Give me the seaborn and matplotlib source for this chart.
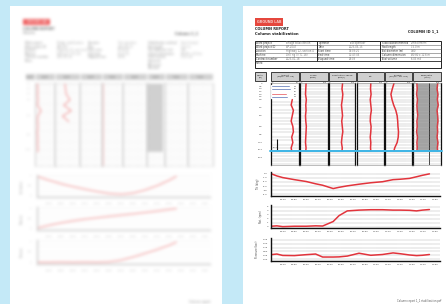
import numpy as np
import matplotlib
matplotlib.use("Agg")
import matplotlib.pyplot as plt
from matplotlib.patches import Rectangle
from matplotlib.ticker import MultipleLocator
import seaborn as sns

W, H = 446, 304
BG = "#c4e9f7"
RED = "#e2343c"
BLUE = "#3d5ca8"
CYAN = "#3db5e6"

# ---------------- right page: column log ----------------
depth = [0, 1, 2, 3, 4, 5, 6, 7, 8, 9, 10, 11, 12, 12.6]
torque = [22, 21, 20, 23, 21, 22, 20, 21, 23, 22, 21, 20, 22, 21]
penetration = [52, 50, 53, 51, 48, 50, 52, 49, 51, 53, 50, 48, 51, 50]
lift = [52, 51, 53, 50, 52, 54, 51, 50, 53, 52, 50, 52, 51, 52]
volume = [33, 27, 22, 26, 32, 40, 45, 47, 48, 50, 49, 45, 36, 33]
flow_lo = [14, 15, 13, 16, 14, 15, 17, 14, 15, 13, 16, 14, 15, 14]
flow_hi = [88, 86, 89, 87, 90, 86, 88, 89, 87, 88, 86, 89, 87, 88]
flow_mark = 56

amount_depth = [3, 4, 5, 6, 7, 8, 9, 10, 11, 12, 12.6]
amount = [38, 36, 40, 38, 36, 39, 40, 37, 39, 36, 37]
bar_depth = [0.5, 1.0, 1.5, 2.0, 2.5]
bar_amount = [34, 36, 36, 28, 31]
bar_color = [BLUE, BLUE, BLUE, RED, BLUE]
stop_depth = [10.4, 12.4]
stop_amount = 11
column_length = 12.6

depth_ticks = [0, 0.5, 1.0, 1.5, 2.0, 2.5, 3.0, 4.5, 6.0, 8.0, 9.5, 11.0, 12.4, 13.8]

panel_titles = ["Amount\n(kg/m ; tot. kg)", "Torque\n(kNm)", "Penetration speed\n(mm/r)",
                "Lift", "Volume\n(m3/m ; tot. m3)", "Flows/ratio\n(l/min)"]
panel_max = [50, 100, 100, 100, 100, 100]

# ---------------- right page: time series ----------------
time_min = [-10, -5, 0, 10, 20, 28, 34, 43, 48, 55, 65, 75, 85, 94, 100, 108, 114, 119, 125]
tilt = [0.0, -0.55, -0.95, -1.45, -1.9, -2.45, -2.8, -3.6, -3.3, -2.95, -2.55, -2.2,
        -1.95, -1.45, -1.35, -1.15, -0.75, -0.4, -0.05]
rotation = [0.1, 0.2, 0.0, 0.1, 0.1, 0.2, 0.15, 1.3, 2.8, 4.0, 4.2, 4.3, 4.3, 4.2,
            4.2, 4.15, 4.0, 4.2, 4.35]
pressure = [0.30, 0.34, 0.25, 0.24, 0.30, 0.34, 0.15, 0.15, 0.16, 0.21, 0.39, 0.26,
            0.31, 0.41, 0.36, 0.28, 0.24, 0.26, 0.31]
time_labels = ["09:40", "09:50", "10:00", "10:10", "10:20", "10:30", "10:40",
               "10:50", "11:00", "11:10", "11:20", "11:30", "11:40", "11:50"]

# ---------------- left page (out of focus) ----------------
lp_depth = [0, 1, 2, 3, 4, 5, 6, 7, 8, 9, 10, 11, 12, 12.6]
lp_trace_a = [12, 14, 13, 15, 12, 30, 14, 13, 15, 12, 14, 13, 15, 14]
lp_trace_b = [40, 42, 45, 60, 35, 65, 30, 55]
lp_time = [-11, 0, 10, 20, 30, 40, 50, 60, 70, 80, 90, 100, 106]
lp_curve1 = [1.0, 0.78, 0.6, 0.45, 0.32, 0.2, 0.1, 0.06, 0.12, 0.28, 0.5, 0.78, 0.98]
lp_curve2 = [0.0, 0.15, 0.27, 0.37, 0.45, 0.52, 0.59, 0.65, 0.71, 0.78, 0.85, 0.93, 0.97]
lp_curve3 = [0.0, 0.0, 0.01, 0.0, 0.01, 0.0, 0.02, 0.1, 0.25, 0.42, 0.6, 0.8, 0.95]

info_labels = [["Work project", "Work project ID", "Location", "Machine", "Contract number"],
               ["Operator", "Date", "Start time", "End time", "Elapsed time"],
               ["Stabilization method", "Rod length", "Tool diameter (m)",
                "Column dimension", "Total volume"]]
info_values = [["Bridge stabilization", "WP-2047", "Highway 12, section 4",
                "Drill rig 3 (TC-18)", "2023-01-18"],
               ["Test operator", "2023-05-15", "09:38:20", "11:47:05", "02:08"],
               ["Lime/cement", "15.0 m", "0.80", "Ø0.80 x 12.6 m", "6.03 m3"]]


def px_axes(fig, x0, y0, x1, y1):
    return fig.add_axes([x0 / W, 1 - y1 / H, (x1 - x0) / W, (y1 - y0) / H])


def _box(a, r, axis):
    k = 2 * r + 1
    pad = [(0, 0)] * a.ndim
    pad[axis] = (r + 1, r)
    c = np.cumsum(np.pad(a, pad), axis=axis)
    n = a.shape[axis]
    return (np.take(c, range(k, k + n), axis=axis) - np.take(c, range(n), axis=axis)) / k


def soften(im, dpi):
    """agg filter: blur a rendered artist (the left page is out of focus)"""
    pad = 5
    p = np.pad(im, ((pad, pad), (pad, pad), (0, 0)))
    pm = np.concatenate([p[..., :3] * p[..., 3:], p[..., 3:]], axis=-1)
    for _ in range(3):
        pm = _box(_box(pm, 1, 0), 1, 1)
    a = pm[..., 3:]
    rgb = np.where(a > 1e-4, pm[..., :3] / np.maximum(a, 1e-4), 0)
    return np.clip(np.concatenate([rgb, a], axis=-1), 0, 1), -pad, -pad


def pixel_canvas(fig, x0, y0, x1, y1):
    ax = px_axes(fig, x0, y0, x1, y1)
    ax.set_xlim(x0, x1)
    ax.set_ylim(y1, y0)
    ax.axis("off")
    ax.patch.set_alpha(0)
    return ax


def depth_panel(ax, xmax, grid_color="#8a8a8a", spine_color="#111", lw=0.9):
    ax.set_xlim(0, xmax)
    ax.set_ylim(15.2, -0.1)
    ax.yaxis.set_minor_locator(MultipleLocator(0.5))
    ax.grid(which="minor", axis="y", color=grid_color, lw=0.35, ls=(0, (1.2, 0.8)))
    ax.set_xticks([])
    ax.set_yticks([])
    ax.tick_params(which="both", length=0)
    for side in ["top", "bottom"]:
        ax.spines[side].set_color(grid_color)
        ax.spines[side].set_linewidth(0.4)
    for side in ["left", "right"]:
        ax.spines[side].set_color(spine_color)
        ax.spines[side].set_linewidth(lw)


def time_chart(ax, ylim, yticks, ylabels, ylabel, xlabels, line_c="#111", text_c="#444",
               grid_c="#8a8a8a"):
    ax.set_xlim(-10, 134)
    ax.set_ylim(*ylim)
    ax.set_xticks(range(0, 10 * len(xlabels), 10))
    ax.set_xticklabels(xlabels)
    ax.set_yticks(yticks)
    ax.set_yticklabels(ylabels)
    ax.set_xlabel("")
    ax.set_ylabel(ylabel, fontsize=1.8, labelpad=2.5, color=text_c)
    ax.grid(axis="y", color=grid_c, lw=0.35, ls=(0, (1.2, 0.8)))
    ax.tick_params(labelsize=1.7, length=1, width=0.4, pad=1.2, colors=text_c)
    sns.despine(ax=ax)
    for side in ["left", "bottom"]:
        ax.spines[side].set_color(line_c)
        ax.spines[side].set_linewidth(1.0)


sns.set_theme(style="white")
plt.rcParams["font.family"] = ["DejaVu Sans"]

fig = plt.figure(figsize=(W / 100, H / 100), dpi=100)
fig.patch.set_facecolor(BG)

bg = pixel_canvas(fig, 0, 0, W, H)
bg.add_patch(Rectangle((10, 6), 212, 300, facecolor="white", edgecolor="none"))
bg.add_patch(Rectangle((243, 6), 205, 300, facecolor="white", edgecolor="none"))

# ======================= left page (blurred) =======================
LT = "#a9a9a9"
LR = "#f3a2a2"
lp = pixel_canvas(fig, 10, 6, 222, 304)
lp.set_agg_filter(soften)
lp.add_patch(Rectangle((23, 19), 27, 6, facecolor="#ef6262", edgecolor="none"))
lp.text(36.5, 22, "GROUND LAB", color="white", fontsize=2.2, ha="center", va="center")
lp.text(23, 29.5, "COLUMN REPORT", fontsize=2.4, color="#777", fontweight="bold", va="center")
lp.text(23, 33, "Column", fontsize=2.4, color="#777", va="center")
lp.text(198, 33, "Column 1_1", fontsize=2.6, color="#666", fontweight="bold", ha="right",
        va="center")
for g, (lx, vx) in enumerate([(25, 57), (88, 118), (148, 181)]):
    for i, (lab, val) in enumerate(zip(info_labels[g], info_values[g])):
        lp.text(lx, 43 + 3.6 * i, lab, fontsize=2, color="#8a8a8a", va="center")
        lp.text(vx, 43 + 3.6 * i, val, fontsize=2, color=LT, va="center")
lp.text(25, 61, "Notes", fontsize=2, color="#8a8a8a", va="center")
lp.text(148, 61, "Comment", fontsize=2, color="#8a8a8a", va="center")
lp.text(148, 64.6, "Reference", fontsize=2, color="#8a8a8a", va="center")
lp.text(148, 68.2, "Checked", fontsize=2, color="#8a8a8a", va="center")
lp_edges = [25, 35, 55, 80, 102, 123, 147, 165, 188, 213]
for a, b in zip(lp_edges[:-1], lp_edges[1:]):
    lp.add_patch(Rectangle((a + 0.5, 74), b - a - 1, 6, facecolor="#d3d3d3", edgecolor="none"))
    lp.text((a + b) / 2, 77, "Column\nvalue", fontsize=1.6, color="#666",
            ha="center", va="center", linespacing=1.0)
for d in depth_ticks[::2]:
    lp.text(31, 83 + d * 5.4, f"{d:.1f}", fontsize=1.7, color=LT, ha="right", va="center")
lp.text(210, 302, "Column report", fontsize=2.2, color="#888", ha="right", va="center")

for k, (a, b) in enumerate(zip(lp_edges[1:-1], lp_edges[2:])):
    ax = px_axes(fig, a, 83, b, 166)
    depth_panel(ax, 100, grid_color="#dedede", spine_color="#bdbdbd", lw=0.5)
    ax.set_agg_filter(soften)
    if k == 0:
        sns.lineplot(x=lp_trace_a, y=lp_depth, orient="y", sort=False, ax=ax, color=LR, lw=0.8)
    elif k == 1:
        sns.lineplot(x=lp_trace_b, y=lp_depth[:len(lp_trace_b)], orient="y", sort=False,
                     ax=ax, color=LR, lw=0.8)
    elif k == 3:
        ax.axvline(6, color="#f6c0c0", lw=0.6)
    elif k == 5:
        ax.fill_betweenx(lp_depth, 0, 88, color="#cfcfcf", lw=0)
        ax.set_axisbelow(False)
    ax.set_xlim(0, 100)
    ax.set_ylim(15.2, -0.1)
    ax.set_xlabel("")
    ax.set_ylabel("")

for (y0, y1), curve, lab in zip([(175, 197), (207, 230), (240, 264)],
                                [lp_curve1, lp_curve2, lp_curve3],
                                ["Inclination", "Rotation", "Pressure"]):
    ax = px_axes(fig, 37, y0, 210, y1)
    ax.set_agg_filter(soften)
    sns.lineplot(x=lp_time, y=curve, ax=ax, color=LR, lw=0.8)
    time_chart(ax, (-0.08, 1.05), [0, 0.25, 0.5, 0.75, 1.0], ["0", "", "0.5", "", "1"], lab,
               time_labels, line_c="#cfcfcf", text_c="#9a9a9a", grid_c="#e6e6e6")
    ax.tick_params(pad=3)

# ======================= right page =======================
rp = pixel_canvas(fig, 243, 6, 446, 304)
rp.add_patch(Rectangle((255, 18), 28, 7.5, facecolor="#e5473d", edgecolor="none"))
rp.text(269, 21.8, "GROUND LAB", color="#f7c9c5", fontsize=2.4, ha="center", va="center",
        fontweight="bold")
rp.text(255, 29.2, "COLUMN REPORT", fontsize=2.5, color="#222", fontweight="bold", va="center")
rp.text(255, 33.6, "Column stabilization", fontsize=2.7, color="#222", fontweight="bold",
        va="center")
rp.text(439, 31.5, "COLUMN ID 1_1", fontsize=2.5, color="#222", fontweight="bold",
        ha="right", va="center")

# info table
rp.add_patch(Rectangle((255, 41), 186, 27.3, fill=False, edgecolor="#222", lw=0.7))
rp.hlines([44.8, 48.8, 52.8, 56.8], 255, 441, color="#666", lw=0.4)
rp.hlines([60.8], 255, 441, color="#222", lw=0.6)
rp.vlines([317, 380], 41, 60.8, color="#222", lw=0.7)
for g, (lx, vx) in enumerate([(256, 286), (318.5, 349), (381.5, 411)]):
    for i, (lab, val) in enumerate(zip(info_labels[g], info_values[g])):
        rp.text(lx, 42.9 + 4 * i, lab, fontsize=1.8, color="#333", va="center")
        rp.text(vx, 42.9 + 4 * i, val, fontsize=1.8, color="#777", va="center")
rp.text(256, 62.6, "Notes:", fontsize=1.8, color="#333", va="center")

# column log headers
panel_edges = [(271, 299), (300, 327.5), (328.5, 355.5), (356.5, 384), (385, 412), (413, 441)]
rp.add_patch(Rectangle((255, 72), 11, 8.5, facecolor="#cfcfcf", edgecolor="#222", lw=0.6))
rp.text(260.5, 76.3, "Depth\n(m)", fontsize=1.6, ha="center", va="center", color="#222",
        linespacing=1.1)
for (a, b), title in zip(panel_edges, panel_titles):
    rp.add_patch(Rectangle((a, 72), b - a, 8.5, facecolor="#cfcfcf", edgecolor="#222", lw=0.6))
    rp.text((a + b) / 2, 76.3, title, fontsize=1.6, ha="center", va="center", color="#222",
            linespacing=1.1)
rp.text(441, 301, "Column report 1_1 stabilization.pdf", fontsize=1.8, color="#555",
        ha="right", va="center")

panels = []
for (a, b), xmax in zip(panel_edges, panel_max):
    ax = px_axes(fig, a, 83, b, 165)
    depth_panel(ax, xmax)
    ax.text(0.03, 1.005, "0", transform=ax.transAxes, fontsize=1.5, color="#555", va="bottom")
    ax.text(0.97, 1.005, str(xmax), transform=ax.transAxes, fontsize=1.5, color="#555",
            va="bottom", ha="right")
    panels.append(ax)

ax = panels[0]
ax.barh(bar_depth, bar_amount, height=0.32, color=bar_color, zorder=3)
for d, v in zip(bar_depth, bar_amount):
    ax.text(0.8, d, str(v), transform=ax.get_yaxis_transform(), fontsize=1.5,
            color="#444", va="center")
sns.lineplot(x=amount, y=amount_depth, orient="y", sort=False, ax=ax, color=RED, lw=1.1)
ax.vlines(stop_amount, *stop_depth, color="#111", lw=0.8)
ax.text(0.06, 12.0, "12.4", fontsize=1.5, color="#555", va="center",
        transform=ax.get_yaxis_transform())
ax.set_yticks(depth_ticks)
ax.set_yticklabels([f"{d:.1f}" if d else "0" for d in depth_ticks])
ax.tick_params(axis="y", which="major", labelsize=1.6, pad=6, length=0, labelcolor="#444")

for ax, vals in zip(panels[1:5], [torque, penetration, lift, volume]):
    sns.lineplot(x=vals, y=depth, orient="y", sort=False, ax=ax, color=RED, lw=1.1)

ax = panels[5]
ax.fill_betweenx(depth, flow_lo, flow_hi, color="#a8a8a8", lw=0)
ax.set_axisbelow(False)
ax.axvline(flow_mark, color="#222", lw=0.6)
sns.lineplot(x=flow_lo, y=depth, orient="y", sort=False, ax=ax, color=RED, lw=1.1)
sns.lineplot(x=flow_hi, y=depth, orient="y", sort=False, ax=ax, color=RED, lw=1.1)

for ax in panels:
    ax.axhline(column_length, xmin=-0.04, xmax=1.04, color=CYAN, lw=1.4, clip_on=False,
               zorder=5)
    ax.set_xlim(0, ax.get_xlim()[1])
    ax.set_ylim(15.2, -0.1)
    ax.set_xlabel("")
    ax.set_ylabel("")

# time series
ax1 = px_axes(fig, 271, 172, 440, 196)
sns.lineplot(x=time_min, y=tilt, ax=ax1, color=RED, lw=1.1)
time_chart(ax1, (-5.4, 0.4), [0, -1, -2, -3, -4, -5],
           ["0.0", "-1.0", "-2.0", "-3.0", "-4.0", "-5.0"], "Tilt (deg)", time_labels)

ax2 = px_axes(fig, 271, 205, 440, 228)
sns.lineplot(x=time_min, y=rotation, ax=ax2, color=RED, lw=1.1)
time_chart(ax2, (-0.35, 5.5), [0, 1, 2, 3, 4, 5], ["0", "1", "2", "3", "4", "5"],
           "Rot. (rpm)", time_labels)

ax3 = px_axes(fig, 271, 238, 440, 261)
sns.lineplot(x=time_min, y=pressure, ax=ax3, color=RED, lw=1.1)
time_chart(ax3, (-0.1, 1.35), [0, 0.25, 0.5, 0.75, 1.0, 1.25],
           ["0.00", "0.25", "0.50", "0.75", "1.00", "1.25"], "Pressure (bar)", time_labels)

fig.savefig("out.png", dpi=100, facecolor=fig.get_facecolor())
